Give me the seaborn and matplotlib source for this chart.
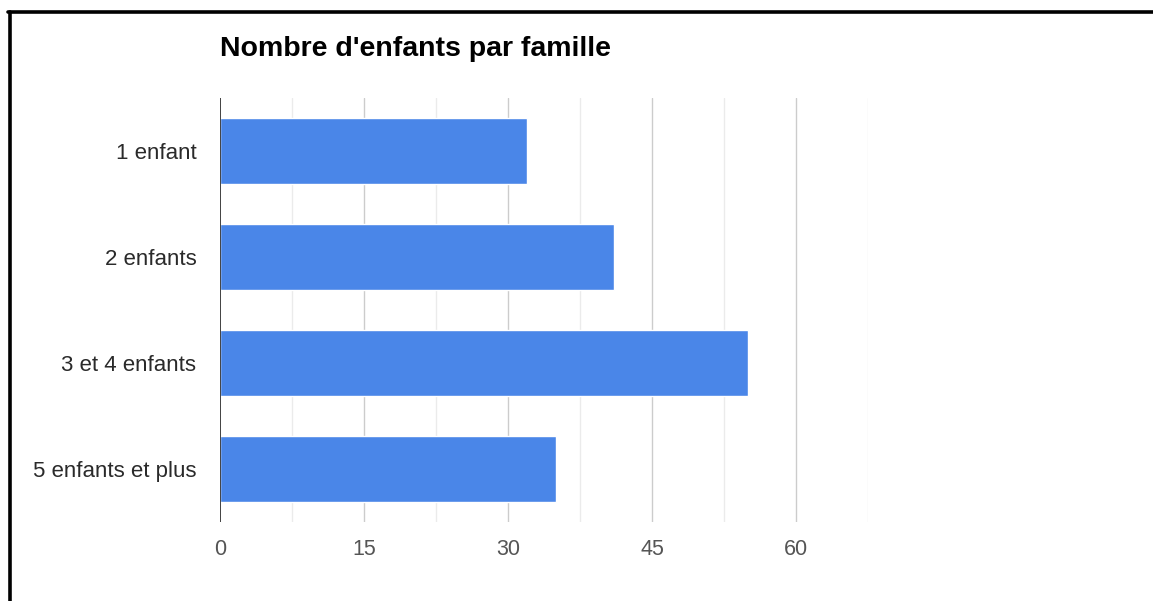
import matplotlib
matplotlib.use('Agg')
import matplotlib.pyplot as plt
from matplotlib.lines import Line2D
import seaborn as sns

# Chart data
categories = ['1 enfant', '2 enfants', '3 et 4 enfants', '5 enfants et plus']
values = [32, 41, 55, 35]
major_ticks = [0, 15, 30, 45, 60]
minor_ticks = [7.5, 22.5, 37.5, 52.5, 67.5]

sns.set_style('white')
plt.rcParams['font.family'] = ['Liberation Sans', 'DejaVu Sans']

figure = plt.figure(figsize=(11.53, 6.01), dpi=100)
axes = figure.add_axes([220 / 1153, 1 - 522 / 601, 648 / 1153, 424 / 601])

# Light gridlines behind the bars
for x in minor_ticks:
    axes.axvline(x, color='#ebebeb', linewidth=1, zorder=0)
for x in major_ticks[1:]:
    axes.axvline(x, color='#cccccc', linewidth=1, zorder=0)

sns.barplot(x=values, y=categories, orient='h', color='#4a86e8',
            saturation=1, width=0.615, ax=axes, zorder=2)
axes.axvline(0, color='#333333', linewidth=1.3, zorder=3)

axes.set_xlim(0, 67.5)
axes.set_ylim(3.5, -0.5)
axes.set_xticks(major_ticks)
axes.set_xticklabels([str(t) for t in major_ticks])
axes.set(xlabel='', ylabel='')
axes.tick_params(axis='x', length=0, pad=12, labelsize=15.5, labelcolor='#555555')
axes.tick_params(axis='y', length=0, pad=17, labelsize=16, labelcolor='#2a2a2a')
sns.despine(ax=axes, left=True, bottom=True)

figure.text(220 / 1153, 1 - 49 / 601, "Nombre d'enfants par famille",
            fontsize=20.5, fontweight='bold', color='black', va='center', ha='left')

# Frame lines on the left and top of the image
figure.add_artist(Line2D([9.5 / 1153, 9.5 / 1153], [0, 1 - 11.5 / 601],
                         transform=figure.transFigure, color='black', linewidth=2.6))
figure.add_artist(Line2D([8 / 1153, 1], [1 - 11.5 / 601, 1 - 11.5 / 601],
                         transform=figure.transFigure, color='black', linewidth=2.6))

figure.savefig('out.png', dpi=100)
